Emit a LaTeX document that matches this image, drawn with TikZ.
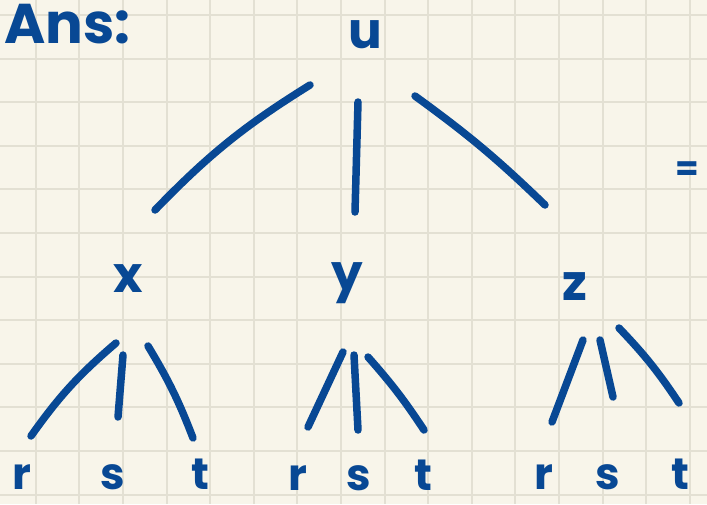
\documentclass[tikz,border=0pt]{standalone}
\usepackage{fontspec}
\setmainfont{Poppins}
\definecolor{paper}{RGB}{248,245,234}
\definecolor{gridline}{RGB}{227,224,211}
\definecolor{ink}{RGB}{8,72,148}

\begin{document}
\begin{tikzpicture}[
  x=1pt, y=-1pt,
  letter/.style={anchor=base, inner sep=0pt, text=ink, text depth=0pt, font=\fontsize{50}{50}\selectfont\bfseries},
  leaf/.style={letter, font=\fontsize{44}{44}\selectfont\bfseries},
  edge/.style={draw=ink, line width=7.5pt, line cap=round}
]
% paper with squares
\fill[paper] (0,0) rectangle (707,504);
\useasboundingbox (0,0) rectangle (707,504);
\foreach \k in {0,...,15}
  \draw[gridline, line width=2pt] (35.7+43.6*\k,0) -- (35.7+43.6*\k,504);
\foreach \k in {0,...,11}
  \draw[gridline, line width=2pt] (0,15+43.6*\k) -- (707,15+43.6*\k);

\node[letter, anchor=base west, font=\fontsize{56}{56}\selectfont\bfseries] (ans) at (4,43) {Ans:};
\node[letter] (u) at (365,48) {u};
\node[letter] (x) at (128,292) {x};
\node[letter] (y) at (347,290) {y};
\node[letter] (z) at (575,300) {z};
\node[letter, font=\fontsize{34}{34}\selectfont\bfseries] (eq) at (687,180) {=};

\node[leaf] (r1) at (22,489) {r};
\node[leaf] (s1) at (113,489) {s};
\node[leaf] (t1) at (200,489) {t};
\node[leaf] (r2) at (298,490) {r};
\node[leaf] (s2) at (359,490) {s};
\node[leaf] (t2) at (423,490) {t};
\node[leaf] (r3) at (544,489) {r};
\node[leaf] (s3) at (608,489) {s};
\node[leaf] (t3) at (680,489) {t};

% u to its children
\draw[edge] ([shift={(-55,37)}]u.base) to[bend right=7] ([shift={(27,-82)}]x.base);
\draw[edge] ([shift={(-7,54)}]u.base) -- ([shift={(8,-78)}]y.base);
\draw[edge] ([shift={(50,48)}]u.base) to[bend left=4] ([shift={(-30,-95)}]z.base);

% x to r s t
\draw[edge] ([shift={(-12,51)}]x.base) to[bend right=7] ([shift={(9,-53)}]r1.base);
\draw[edge] ([shift={(-5,63)}]x.base) -- ([shift={(5,-72)}]s1.base);
\draw[edge] ([shift={(20,54)}]x.base) to[bend left=5] ([shift={(-7,-51)}]t1.base);

% y to r s t
\draw[edge] ([shift={(-4,62)}]y.base) -- ([shift={(10,-63)}]r2.base);
\draw[edge] ([shift={(7,65)}]y.base) -- ([shift={(-1,-60)}]s2.base);
\draw[edge] ([shift={(21,67)}]y.base) to[bend left=4] ([shift={(1,-60)}]t2.base);

% z to r s t
\draw[edge] ([shift={(8,40)}]z.base) -- ([shift={(8,-67)}]r3.base);
\draw[edge] ([shift={(25,40)}]z.base) -- ([shift={(5,-92)}]s3.base);
\draw[edge] ([shift={(44,28)}]z.base) to[bend left=5] ([shift={(-1,-86)}]t3.base);
\end{tikzpicture}
\end{document}
